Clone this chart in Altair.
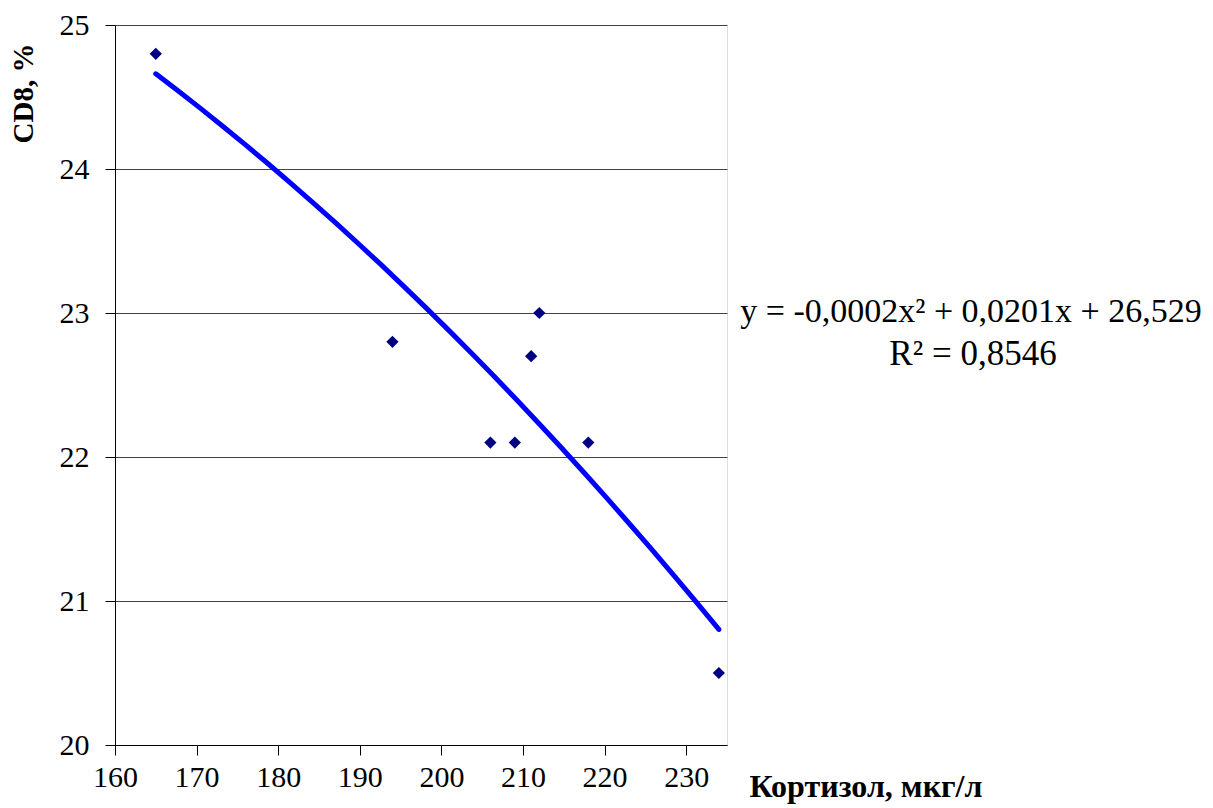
import altair as alt
import pandas as pd

cortisol = [165, 194, 206, 209, 211, 212, 218, 234]
cd8 = [24.8, 22.8, 22.1, 22.1, 22.7, 23.0, 22.1, 20.5]
x_ticks = [160, 170, 180, 190, 200, 210, 220, 230]
y_ticks = [20, 21, 22, 23, 24, 25]
eq_line1 = "y = -0,0002x² + 0,0201x + 26,529"
eq_line2 = "R² = 0,8546"

df = pd.DataFrame({"x": cortisol, "y": cd8})
FONT = "Liberation Serif"

x_scale = alt.Scale(domain=[160, 235], nice=False, zero=False)
y_scale = alt.Scale(domain=[20, 25], nice=False, zero=False)

x_enc = alt.X(
    "x:Q",
    scale=x_scale,
    axis=alt.Axis(
        values=x_ticks, format="d", grid=False, domainColor="#000000", tickColor="#000000",
        tickSize=10, labelFontSize=30, labelFont=FONT, labelColor="#000000",
        labelPadding=7, labelFlush=False,
        title="Кортизол, мкг/л", titleFont=FONT, titleFontSize=32, titleFontWeight="bold",
        titleColor="#000000", titleAnchor="start", titleAlign="left",
        titleX=634, titleY=51, titleBaseline="alphabetic",
    ),
)
y_enc = alt.Y(
    "y:Q",
    scale=y_scale,
    axis=alt.Axis(
        values=y_ticks, format="d", grid=True, gridColor="#444444", gridWidth=1,
        domainColor="#000000", tickColor="#000000", tickSize=10,
        labelFontSize=30, labelFont=FONT, labelColor="#000000", labelPadding=16,
        labelFlush=False,
        title="CD8, %", titleFont=FONT, titleFontSize=29, titleFontWeight="bold",
        titleColor="#000000", titleAngle=270, titleAlign="right", titleBaseline="middle",
        titleX=-92, titleY=18,
    ),
)

base = alt.Chart(df)

points = base.mark_point(shape="diamond", filled=True, size=150, color="#000080", opacity=1).encode(
    x=x_enc, y=y_enc
)

trend = base.transform_regression("x", "y", method="poly", order=2).mark_line(
    color="#0000FF", strokeWidth=5, strokeCap="round"
).encode(x=x_enc, y=y_enc)

eq1 = alt.Chart(pd.DataFrame({"t": [eq_line1]})).mark_text(
    font=FONT, fontSize=34, color="#000000", align="center", baseline="alphabetic"
).encode(x=alt.value(856), y=alt.value(297), text="t:N")

eq2 = alt.Chart(pd.DataFrame({"t": [eq_line2]})).mark_text(
    font=FONT, fontSize=35, color="#000000", align="center", baseline="alphabetic"
).encode(x=alt.value(858), y=alt.value(340), text="t:N")

chart = alt.layer(trend, points, eq1, eq2).properties(
    width=612,
    height=720,
    autosize=alt.AutoSizeParams(type="none"),
    padding={"left": 107, "top": 17, "right": 478, "bottom": 62},
).configure_view(stroke="#808080", strokeWidth=1.5).configure(background="#ffffff")

chart.save("out.html", embed_options={"renderer": "svg", "actions": False})
